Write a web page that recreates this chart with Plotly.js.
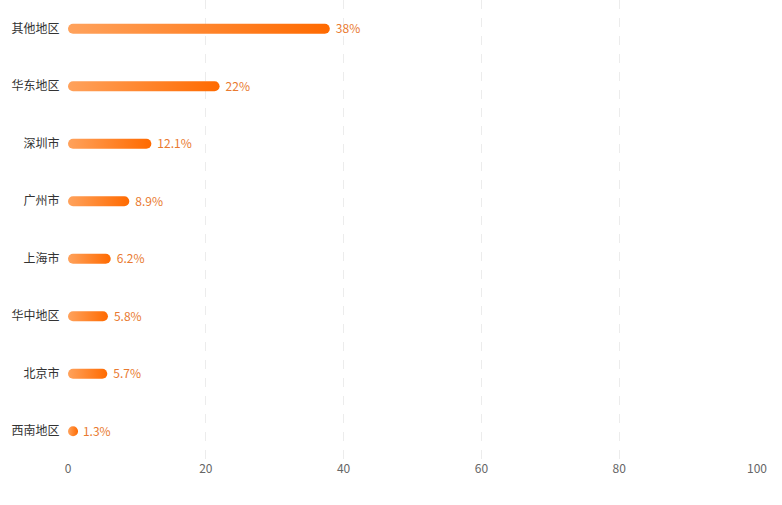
<!DOCTYPE html>
<html><head><meta charset="utf-8">
<script src="https://cdn.plot.ly/plotly-3.0.1.min.js"></script>
<style>html,body{margin:0;padding:0;background:#fff}</style>
</head><body>
<div id="chart" style="width:782px;height:505px"></div>
<script>
const categories = ["其他地区","华东地区","深圳市","广州市","上海市","华中地区","北京市","西南地区"];
const values = [38, 22, 12.1, 8.9, 6.2, 5.8, 5.7, 1.3];
const labels = ["38%","22%","12.1%","8.9%","6.2%","5.8%","5.7%","1.3%"];
const xTicks = [0,20,40,60,80,100];

const FONT = '"Noto Sans CJK SC", "Noto Sans", sans-serif';
const trace = {
  type: 'bar', orientation: 'h',
  x: values, y: categories,
  text: labels, textposition: 'outside', cliponaxis: false, constraintext: 'none',
  textfont: {color: '#e97a30', size: 12, family: FONT},
  marker: {color: '#ff8533', line: {width: 0}},
  hoverinfo: 'none'
};
const layout = {
  width: 782, height: 505,
  margin: {l: 68, r: 25, t: 0, b: 45},
  paper_bgcolor: '#fff', plot_bgcolor: '#fff',
  showlegend: false,
  bargap: 0.825,
  font: {family: FONT, size: 12, color: '#333'},
  xaxis: {range: [0, 100], tickvals: xTicks, showgrid: true, gridcolor: '#ececec', griddash: 'dash',
          zeroline: false, showline: false, ticks: '', tickfont: {color: '#666', size: 12}, fixedrange: true},
  yaxis: {autorange: 'reversed', categoryorder: 'array', categoryarray: categories, showgrid: false,
          zeroline: false, showline: false, ticks: 'outside', ticklen: 5, tickcolor: 'rgba(0,0,0,0)',
          tickfont: {color: '#333', size: 12}, fixedrange: true}
};
const gd = document.getElementById('chart');
Plotly.newPlot(gd, [trace], layout, {displayModeBar: false, staticPlot: true}).then(style);

function style() {
  const svg = gd.querySelector('svg.main-svg');
  const ns = 'http://www.w3.org/2000/svg';
  let defs = svg.querySelector('defs');
  if (!document.getElementById('barGrad')) {
    const g = document.createElementNS(ns, 'linearGradient');
    g.setAttribute('id', 'barGrad');
    g.setAttribute('x1', '0'); g.setAttribute('y1', '0'); g.setAttribute('x2', '1'); g.setAttribute('y2', '0');
    [['0%', '#ffa25c'], ['100%', '#ff6a00']].forEach(([o, c]) => {
      const s = document.createElementNS(ns, 'stop');
      s.setAttribute('offset', o); s.setAttribute('stop-color', c);
      g.appendChild(s);
    });
    defs.appendChild(g);
  }
  gd.querySelectorAll('.barlayer .point path').forEach(p => {
    const b = p.getBBox();
    const h = b.height, r = h / 2;
    let w = Math.max(b.width, h);
    const x = b.x, y = b.y;
    const d = `M${x + r},${y}H${x + w - r}A${r},${r} 0 0 1 ${x + w - r},${y + h}H${x + r}A${r},${r} 0 0 1 ${x + r},${y}Z`;
    p.setAttribute('d', d);
    p.style.fill = 'url(#barGrad)';
  });
  gd.querySelectorAll('.barlayer .point text').forEach(t => {
    t.setAttribute('x', (parseFloat(t.getAttribute('x')) || 0) + 3);
    t.setAttribute('y', (parseFloat(t.getAttribute('y')) || 0) - 1);
  });
}
</script>
</body></html>
